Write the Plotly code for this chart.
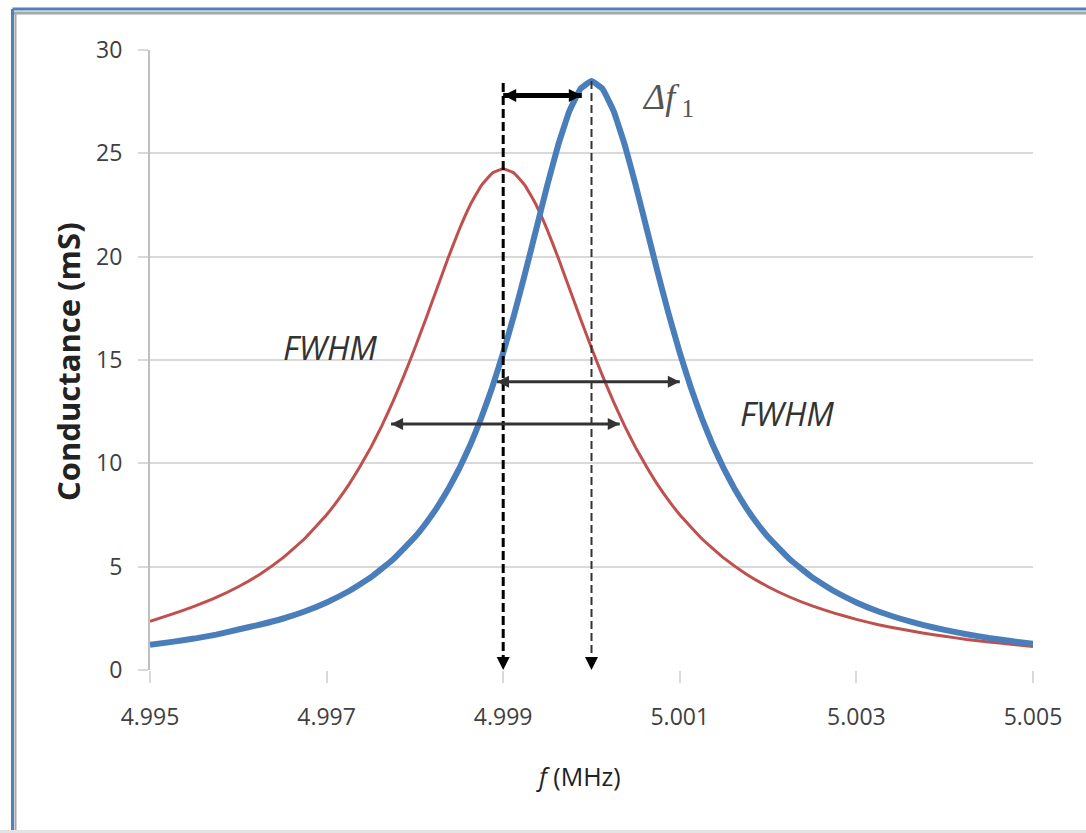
import plotly.graph_objects as go

# Frequency sweep (MHz) and conductance (mS) for the unloaded resonance (blue)
freq_unloaded = [4.995, 4.99525, 4.9955, 4.99575, 4.996, 4.99625, 4.9965, 4.99675, 4.997, 4.99725,
                 4.9975, 4.99775, 4.998, 4.998125, 4.99825, 4.998375, 4.9985, 4.998625, 4.99875,
                 4.998875, 4.999, 4.999125, 4.99925, 4.999375, 4.9995, 4.999625, 4.99975, 4.999875,
                 5.0, 5.000125, 5.00025, 5.000375, 5.0005, 5.000625, 5.00075, 5.000875, 5.001,
                 5.001125, 5.00125, 5.001375, 5.0015, 5.001625, 5.00175, 5.001875, 5.002,
                 5.00225, 5.0025, 5.00275, 5.003, 5.00325, 5.0035, 5.00375, 5.004, 5.00425,
                 5.0045, 5.00475, 5.005]
g_unloaded = [1.22, 1.36, 1.52, 1.71, 1.96, 2.20, 2.48, 2.83, 3.27, 3.81,
              4.48, 5.34, 6.43, 7.10, 7.86, 8.73, 9.73, 10.87, 12.18,
              13.67, 15.35, 17.21, 19.23, 21.35, 23.47, 25.43, 27.05, 28.12,
              28.5, 28.12, 27.05, 25.43, 23.47, 21.35, 19.23, 17.21, 15.35,
              13.67, 12.18, 10.87, 9.73, 8.73, 7.86, 7.10, 6.43,
              5.34, 4.48, 3.81, 3.27, 2.83, 2.48, 2.18, 1.94, 1.73,
              1.55, 1.40, 1.27]

# Shifted resonance (red)
freq_shifted = [4.995, 4.99525, 4.9955, 4.99575, 4.996, 4.99625, 4.9965, 4.99675, 4.997,
                4.997125, 4.99725, 4.997375, 4.9975, 4.997625, 4.99775, 4.997875, 4.998,
                4.998125, 4.99825, 4.998375, 4.9985, 4.998625, 4.99875, 4.998875, 4.999,
                4.999125, 4.99925, 4.999375, 4.9995, 4.999625, 4.99975, 4.999875, 5.0,
                5.000125, 5.00025, 5.000375, 5.0005, 5.000625, 5.00075, 5.000875, 5.001,
                5.00125, 5.0015, 5.00175, 5.002, 5.00225, 5.0025, 5.00275, 5.003, 5.00325,
                5.0035, 5.00375, 5.004, 5.00425, 5.0045, 5.00475, 5.005]
g_shifted = [2.36, 2.70, 3.08, 3.51, 4.03, 4.65, 5.41, 6.35, 7.51,
             8.20, 8.96, 9.82, 10.76, 11.81, 12.97, 14.23, 15.58,
             17.00, 18.46, 19.92, 21.29, 22.49, 23.43, 24.04, 24.25,
             24.04, 23.43, 22.49, 21.29, 19.92, 18.46, 17.00, 15.58,
             14.23, 12.97, 11.81, 10.76, 9.82, 8.96, 8.20, 7.51,
             6.35, 5.41, 4.65, 4.03, 3.52, 3.10, 2.75, 2.45, 2.19,
             1.98, 1.79, 1.63, 1.48, 1.36, 1.25, 1.14]

# Resonance markers
peak_freq = [4.999, 5.000]
peak_top = [28.4, 28.5]
delta_f_span = [4.999, 4.99989]
delta_f_level = 27.8
fwhm_unloaded = [4.99893, 5.00100]
fwhm_unloaded_level = 13.95
fwhm_shifted = [4.99773, 5.00032]
fwhm_shifted_level = 11.9

x_ticks = [4.995, 4.997, 4.999, 5.001, 5.003, 5.005]
x_tick_text = ["4.995", "4.997", "4.999", "5.001", "5.003", "5.005"]
y_ticks = [0, 5, 10, 15, 20, 25, 30]

W, H = 1086, 833
ML, MR, MT, MB = 150, 53, 50, 163
PW, PH = W - ML - MR, H - MT - MB


def px_x(px):
    return (px - ML) / PW


def px_y(py):
    return (H - MB - py) / PH


FONT = "Open Sans"
BLUE = "#4a7ebb"
RED = "#c0504d"

fig = go.Figure()

fig.add_trace(go.Scatter(x=freq_shifted, y=g_shifted, mode="lines",
                         line=dict(color=RED, width=3, shape="spline", smoothing=0.3),
                         hoverinfo="skip"))
fig.add_trace(go.Scatter(x=freq_unloaded, y=g_unloaded, mode="lines",
                         line=dict(color=BLUE, width=6, shape="spline", smoothing=0.3),
                         hoverinfo="skip"))

# Dashed drop lines from each peak down to the frequency axis
dash_styles = [dict(color="#000000", width=3, dash="9px,4px"),
               dict(color="#333333", width=2, dash="8px,4px")]
for f, top, ls in zip(peak_freq, peak_top, dash_styles):
    fig.add_trace(go.Scatter(x=[f, f], y=[top, 0.6], mode="lines", line=ls,
                             hoverinfo="skip"))

fig.add_trace(go.Scatter(x=peak_freq, y=[0.0] * len(peak_freq), mode="markers",
                         marker=dict(symbol="arrow-down", size=13, color="#000000",
                                     line=dict(width=0)),
                         hoverinfo="skip"))

# Double-headed horizontal arrows
arrows = [
    (delta_f_span, delta_f_level, "#000000", 5, 13),
    (fwhm_unloaded, fwhm_unloaded_level, "#333333", 3, 12),
    (fwhm_shifted, fwhm_shifted_level, "#333333", 3, 12),
]
for (xa, xb), lvl, col, w, ms in arrows:
    fig.add_trace(go.Scatter(x=[xa, xb], y=[lvl, lvl], mode="lines",
                             line=dict(color=col, width=w), hoverinfo="skip"))
    fig.add_trace(go.Scatter(x=[xa, xb], y=[lvl, lvl], mode="markers",
                             marker=dict(symbol=["arrow-left", "arrow-right"], size=ms,
                                         color=col, line=dict(width=0)),
                             hoverinfo="skip"))

fig.add_annotation(x=4.997039, y=15.6, xref="x", yref="y", text="<i>FWHM</i>",
                   xanchor="center", yanchor="middle", showarrow=False,
                   font=dict(family=FONT, size=33, color="#333333"))
fig.add_annotation(x=5.002214, y=12.4, xref="x", yref="y", text="<i>FWHM</i>",
                   xanchor="center", yanchor="middle", showarrow=False,
                   font=dict(family=FONT, size=33, color="#333333"))
fig.add_annotation(x=5.000866, y=27.6, xref="x", yref="y",
                   text="<i>Δf</i><sub> 1</sub>", xanchor="center", yanchor="middle",
                   showarrow=False,
                   font=dict(family="Liberation Serif", size=36, color="#555555"))

# Axis titles
fig.add_annotation(x=px_x(578), y=px_y(776), xref="paper", yref="paper",
                   text="<i>f</i> (MHz)", xanchor="center", yanchor="middle",
                   showarrow=False, font=dict(family=FONT, size=25, color="#222222"))
fig.add_annotation(x=px_x(68), y=px_y(362), xref="paper", yref="paper",
                   text="<b>Conductance (mS)</b>", xanchor="center", yanchor="middle",
                   showarrow=False, textangle=-90,
                   font=dict(family=FONT, size=31, color="#222222"))

# Outer frame
frame = [
    (px_x(12.5), px_y(9), px_x(W + 5), px_y(9), "#4f81bd", 3),
    (px_x(14), px_y(13), px_x(W + 5), px_y(13), "#a6a6a6", 3),
    (px_x(12.5), px_y(9), px_x(12.5), px_y(H + 5), "#4f81bd", 3),
    (px_x(15.5), px_y(13), px_x(15.5), px_y(H + 5), "#a6a6a6", 2),
    (px_x(0), px_y(831.5), px_x(W + 5), px_y(831.5), "#e3e3e3", 3),
]
for x0, y0, x1, y1, col, w in frame:
    fig.add_shape(type="line", xref="paper", yref="paper", x0=x0, y0=y0, x1=x1, y1=y1,
                  line=dict(color=col, width=w), layer="above")

fig.update_layout(
    width=W, height=H,
    margin=dict(l=ML, r=MR, t=MT, b=MB, pad=0),
    paper_bgcolor="white", plot_bgcolor="white",
    showlegend=False,
    font=dict(family=FONT, color="#404040"),
)
fig.update_xaxes(range=[4.995, 5.005], tickvals=x_ticks, ticktext=x_tick_text,
                 showgrid=False, zeroline=False, showline=False,
                 ticks="outside", ticklen=12, tickwidth=2, tickcolor="#d9d9d9",
                 ticklabelstandoff=14, tickfont=dict(family=FONT, size=23, color="#404040"))
fig.update_yaxes(range=[0, 30], tickvals=y_ticks, showgrid=True, gridcolor="#d9d9d9",
                 gridwidth=2, zeroline=False, showline=True, linecolor="#bfbfbf",
                 linewidth=2, ticks="outside", ticklen=10, tickwidth=2,
                 tickcolor="#d9d9d9", ticklabelstandoff=11,
                 tickfont=dict(family=FONT, size=23, color="#404040"))

fig.write_html("out.html")
